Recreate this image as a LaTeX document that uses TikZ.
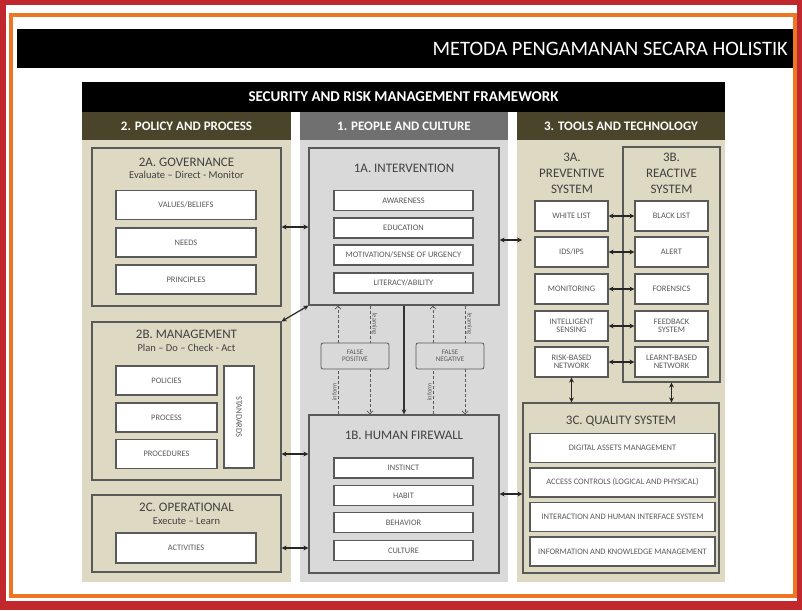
\documentclass[tikz,border=0pt]{standalone}
\usepackage{fontspec}
\setmainfont{Carlito}
\usepackage{xcolor}
\usepackage{tikz}
\usetikzlibrary{arrows.meta,positioning}
\definecolor{frame}{HTML}{C0282D}
\definecolor{trim}{HTML}{EE7623}
\definecolor{olive}{HTML}{4A452A}
\definecolor{tan}{HTML}{DDD9C3}
\definecolor{slate}{HTML}{707070}
\definecolor{mist}{HTML}{D9D9D9}
\definecolor{edge}{HTML}{595959}
\definecolor{ink}{HTML}{404040}
\newcommand{\fsz}[1]{\fontsize{#1}{#1}\selectfont}

\begin{document}
\begin{tikzpicture}[x=1pt, y=-1pt,
    head/.style={rectangle, fill=olive, text=white!92!tan, font=\bfseries\fsz{13}, minimum width=209pt, minimum height=28pt, inner sep=0pt},
    panel/.style={rectangle, draw=edge, line width=1.2pt, inner sep=0pt},
    item/.style={rectangle, draw=edge, fill=white, line width=1.2pt, inner sep=0pt, text=edge, font=\fsz{8.4}, align=center},
    ttl/.style={text=ink, font=\fsz{13}, inner sep=0pt},
    sub/.style={text=ink, font=\fsz{10.5}, inner sep=0pt},
    lbl/.style={text=edge, font=\fsz{6.5}, inner sep=1pt},
    twoway/.style={{Stealth[length=5pt,width=5pt]}-{Stealth[length=5pt,width=5pt]}, line width=1.2pt, black!85},
    oneway/.style={-{Stealth[length=5pt,width=5pt]}, line width=1.2pt, black!80},
    dashline/.style={densely dashed, line width=0.8pt, edge},
    dasharrow/.style={dashline, -{Straight Barb[length=3pt,width=6pt]}}
]
    \useasboundingbox (0,0) rectangle (802,610);
    % frame
    \fill[frame] (0,0) rectangle (802,610);
    \fill[white] (6,5) rectangle (797,601);
    \draw[trim, line width=4pt] (11,15) rectangle (795,596);
    \fill[black] (17,29) rectangle (793,68);
    \node[text=white, font=\fsz{20.5}, anchor=east, inner sep=0pt] (title) at (788,49) {METODA PENGAMANAN SECARA HOLISTIK};

    % framework
    \node[fill=black, text=white, font=\bfseries\fsz{15}, minimum width=643pt, minimum height=30pt, inner sep=0pt] (frm) at (403.5,97) {SECURITY AND RISK MANAGEMENT FRAMEWORK};
    \node[head] (hpolicy) at (186.5,126) {2. POLICY AND PROCESS};
    \node[head, fill=slate, minimum width=208pt] (hpeople) at (404,126) {1. PEOPLE AND CULTURE};
    \node[head, minimum width=208pt] (htools) at (621,126) {3. TOOLS AND TECHNOLOGY};
    \fill[tan] (82,140) rectangle (291,582);
    \fill[mist] (300,140) rectangle (508,582);
    \fill[tan] (517,140) rectangle (725,582);

    % 2. policy and process
    \node[panel, minimum width=189pt, minimum height=158pt] (gov) at (186.5,227) {};
    \node[ttl] (govttl) at (186.5,162) {2A. GOVERNANCE};
    \node[sub] (govsub) at (186.5,175) {Evaluate – Direct - Monitor};
    \node[item, minimum width=140pt, minimum height=29pt] (values) at (186,205) {VALUES/BELIEFS};
    \node[item, minimum width=140pt, minimum height=29pt] (needs) at (186,242.5) {NEEDS};
    \node[item, minimum width=140pt, minimum height=29pt] (princ) at (186,279.5) {PRINCIPLES};

    \node[panel, minimum width=189pt, minimum height=158pt] (mgmt) at (186.5,401) {};
    \node[ttl] (mgmtttl) at (186.5,334) {2B. MANAGEMENT};
    \node[sub] (mgmtsub) at (186.5,348) {Plan – Do – Check - Act};
    \node[item, minimum width=101pt, minimum height=29pt] (policies) at (166.5,380.5) {POLICIES};
    \node[item, minimum width=101pt, minimum height=29pt] (process) at (166.5,417.5) {PROCESS};
    \node[item, minimum width=101pt, minimum height=29pt] (procs) at (166.5,454) {PROCEDURES};
    \node[item, minimum width=30pt, minimum height=102pt] (stds) at (239,417) {\rotatebox{-90}{STANDARDS}};

    \node[panel, minimum width=189pt, minimum height=77pt] (ops) at (186.5,533.5) {};
    \node[ttl] (opsttl) at (186.5,507) {2C. OPERATIONAL};
    \node[sub] (opssub) at (186.5,521) {Execute – Learn};
    \node[item, minimum width=140pt, minimum height=30pt] (acts) at (186,548) {ACTIVITIES};

    % 1. people and culture
    \node[panel, fill=mist, minimum width=190pt, minimum height=157pt] (interv) at (404,226.5) {};
    \node[ttl] (intervttl) at (404,168) {1A. INTERVENTION};
    \node[item, minimum width=139pt, minimum height=20pt] (aware) at (403.5,200.5) {AWARENESS};
    \node[item, minimum width=139pt, minimum height=20pt] (edu) at (403.5,228) {EDUCATION};
    \node[item, minimum width=139pt, minimum height=20pt] (motiv) at (403.5,255) {MOTIVATION/SENSE OF URGENCY};
    \node[item, minimum width=139pt, minimum height=20pt] (liter) at (403.5,283) {LITERACY/ABILITY};

    \node[panel, fill=mist, minimum width=190pt, minimum height=158pt] (firewall) at (404,494) {};
    \node[ttl] (firewallttl) at (404,435) {1B. HUMAN FIREWALL};
    \node[item, minimum width=139pt, minimum height=20pt] (instinct) at (403.5,468) {INSTINCT};
    \node[item, minimum width=139pt, minimum height=20pt] (habit) at (403.5,495.5) {HABIT};
    \node[item, minimum width=139pt, minimum height=20pt] (behav) at (403.5,522.5) {BEHAVIOR};
    \node[item, minimum width=139pt, minimum height=20pt] (cult) at (403.5,550.5) {CULTURE};

    \node[item, fill=mist, rounded corners=2pt, line width=0.8pt, font=\fsz{7}, minimum width=68pt, minimum height=26pt] (fpos) at (355,356) {FALSE\\POSITIVE};
    \node[item, fill=mist, rounded corners=2pt, line width=0.8pt, font=\fsz{7}, minimum width=68pt, minimum height=26pt] (fneg) at (450,356) {FALSE\\NEGATIVE};

    \foreach \f in {fpos,fneg}{
        \draw[dashline] ([xshift=-17pt]\f.center |- firewall.north) -- node[lbl, sloped, above] {inform} ([xshift=-17pt]\f.south);
        \draw[dasharrow] ([xshift=-17pt]\f.north) -- ([xshift=-17pt]\f.center |- interv.south);
        \draw[dashline] ([xshift=15pt]\f.center |- interv.south) -- node[lbl, sloped, above] {learning} ([xshift=15pt]\f.north);
        \draw[dasharrow] ([xshift=15pt]\f.south) -- ([xshift=15pt]\f.center |- firewall.north);
    }
    \draw[oneway] (interv) -- (firewall);

    % 3. tools and technology
    \node[ttl, align=center, font=\fontsize{13}{16}\selectfont] (prev) at (572,173) {3A.\\PREVENTIVE\\SYSTEM};
    \node[panel, minimum width=97pt, minimum height=235pt] (react) at (671.5,264.5) {};
    \node[ttl, align=center, font=\fontsize{13}{16}\selectfont] (reactttl) at (671.5,173) {3B.\\REACTIVE\\SYSTEM};
    \node[item, minimum width=73pt, minimum height=30pt] (wl) at (571.5,216) {WHITE LIST};
    \node[item, minimum width=73pt, minimum height=30pt] (ids) at (571.5,252) {IDS/IPS};
    \node[item, minimum width=73pt, minimum height=30pt] (mon) at (571.5,289) {MONITORING};
    \node[item, minimum width=73pt, minimum height=30pt] (sense) at (571.5,326) {INTELLIGENT\\SENSING};
    \node[item, minimum width=73pt, minimum height=30pt] (rbn) at (571.5,362) {RISK-BASED\\NETWORK};
    \node[item, minimum width=73pt, minimum height=30pt] (bl) at (671.5,216) {BLACK LIST};
    \node[item, minimum width=73pt, minimum height=30pt] (alert) at (671.5,252) {ALERT};
    \node[item, minimum width=73pt, minimum height=30pt] (foren) at (671.5,289) {FORENSICS};
    \node[item, minimum width=73pt, minimum height=30pt] (feed) at (671.5,326) {FEEDBACK\\SYSTEM};
    \node[item, minimum width=73pt, minimum height=30pt] (lbn) at (671.5,362) {LEARNT-BASED\\NETWORK};
    \foreach \a/\b in {wl/bl, ids/alert, mon/foren, sense/feed, rbn/lbn}
        \draw[twoway] (\a) -- (\b);

    \node[panel, minimum width=196pt, minimum height=170pt] (quality) at (621,488) {};
    \node[ttl] (qualityttl) at (621,421) {3C. QUALITY SYSTEM};
    \node[item, minimum width=185pt, minimum height=29pt] (dam) at (622.5,448) {DIGITAL ASSETS MANAGEMENT};
    \node[item, minimum width=185pt, minimum height=29pt] (acc) at (622.5,482.5) {ACCESS CONTROLS (LOGICAL AND PHYSICAL)};
    \node[item, minimum width=185pt, minimum height=29pt] (ihi) at (622.5,517) {INTERACTION AND HUMAN INTERFACE SYSTEM};
    \node[item, minimum width=185pt, minimum height=29pt] (ikm) at (622.5,551.5) {INFORMATION AND KNOWLEDGE MANAGEMENT};
    \draw[twoway] (rbn.south) -- (rbn.south |- quality.north);
    \draw[twoway] (react.south) -- (react.south |- quality.north);

    % links between columns
    \coordinate (prevedge) at (522,240);
    \draw[twoway] (gov.east) -- (gov.east -| interv.west);
    \draw[twoway] (mgmt.north east) -- (interv.south west);
    \draw[twoway] (procs -| mgmt.east) -- (procs -| firewall.west);
    \draw[twoway] (acts -| ops.east) -- (acts -| firewall.west);
    \draw[twoway] (interv.east |- prevedge) -- (prevedge);
    \draw[twoway] (firewall.east) -- (firewall.east -| quality.west);
\end{tikzpicture}
\end{document}
